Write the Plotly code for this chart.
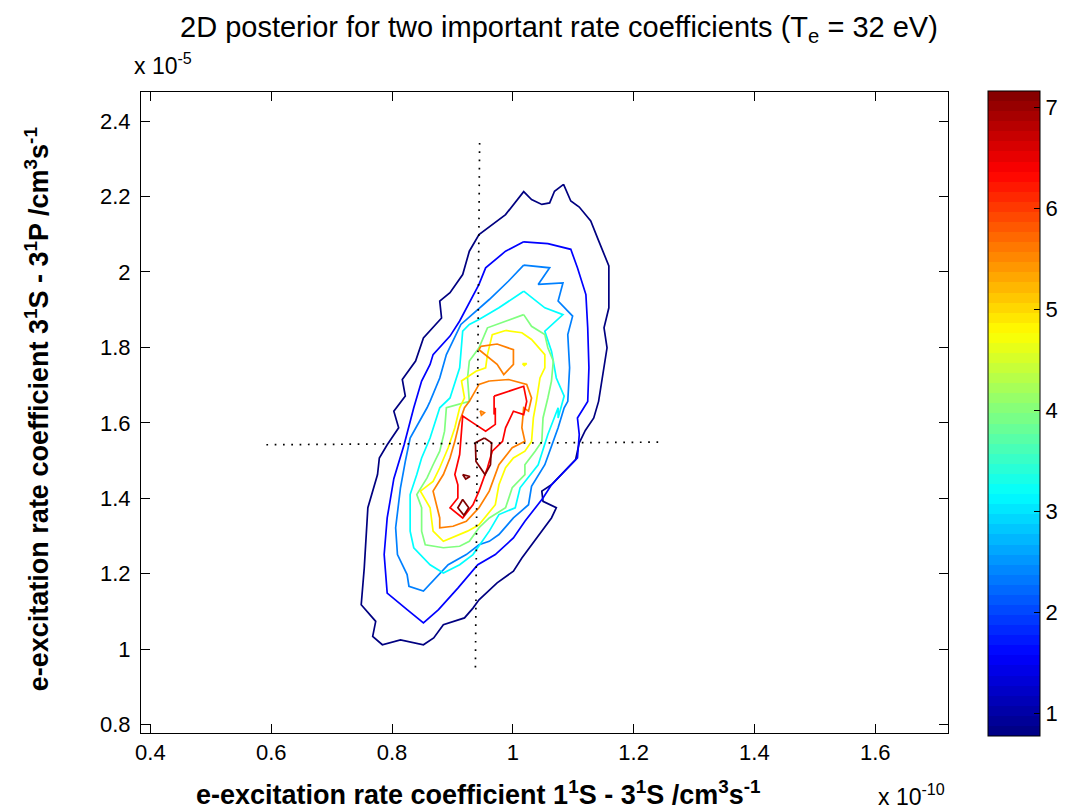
import plotly.graph_objects as go

# ---------------- data ----------------
X_RANGE = [0.3844, 1.7205]          # x 1e-10
Y_RANGE = [0.778, 2.477]            # x 1e-5
X_TICKS = [0.4, 0.6, 0.8, 1.0, 1.2, 1.4, 1.6]
Y_TICKS = [0.8, 1.0, 1.2, 1.4, 1.6, 1.8, 2.0, 2.2, 2.4]
CB_RANGE = [0.78, 7.16]
CB_TICKS = [1, 2, 3, 4, 5, 6, 7]
LEVELS = [0.78, 1.58, 2.38, 3.17, 3.97, 4.77, 5.57, 6.36, 7.16]

# contour level 1 (outermost)
C1 = [(1.084, 2.232), (1.096, 2.188), (1.110, 2.172), (1.129, 2.135), (1.140, 2.091),
      (1.159, 2.016), (1.159, 1.905), (1.151, 1.852), (1.156, 1.799), (1.151, 1.746),
      (1.142, 1.657), (1.134, 1.613), (1.120, 1.580), (1.110, 1.547), (1.104, 1.503),
      (1.064, 1.436), (1.048, 1.419), (1.050, 1.392), (1.072, 1.375), (1.064, 1.348),
      (1.015, 1.242), (1.001, 1.207), (0.974, 1.176), (0.944, 1.131), (0.934, 1.109),
      (0.920, 1.083), (0.885, 1.065), (0.869, 1.030), (0.852, 1.012), (0.814, 1.025),
      (0.784, 1.012), (0.768, 1.034), (0.773, 1.074), (0.749, 1.118), (0.754, 1.215),
      (0.760, 1.375), (0.776, 1.463), (0.779, 1.507), (0.792, 1.542), (0.811, 1.587),
      (0.803, 1.631), (0.822, 1.671), (0.817, 1.715), (0.839, 1.764), (0.852, 1.825),
      (0.882, 1.878), (0.879, 1.923), (0.896, 1.945), (0.917, 1.993), (0.928, 2.055),
      (0.944, 2.099), (0.988, 2.152), (1.018, 2.213), (1.031, 2.192), (1.048, 2.179),
      (1.061, 2.183), (1.069, 2.214)]
# level 2
C2 = [(1.018, 2.080), (1.058, 2.075), (1.096, 2.060), (1.107, 2.011), (1.121, 1.940),
      (1.124, 1.852), (1.126, 1.746), (1.124, 1.657), (1.107, 1.613), (1.110, 1.569),
      (1.107, 1.507), (1.085, 1.472), (1.064, 1.436), (1.050, 1.401), (1.020, 1.339),
      (1.001, 1.295), (0.971, 1.251), (0.942, 1.224), (0.909, 1.162), (0.877, 1.105),
      (0.852, 1.070), (0.825, 1.105), (0.792, 1.149), (0.787, 1.251), (0.792, 1.348),
      (0.803, 1.452), (0.820, 1.542), (0.836, 1.640), (0.849, 1.711), (0.863, 1.755),
      (0.868, 1.781), (0.896, 1.830), (0.912, 1.870), (0.944, 1.967), (0.955, 2.011),
      (0.988, 2.055)]
# level 3
C3 = [(1.018, 2.018), (1.061, 2.011), (1.042, 1.967), (1.083, 1.971), (1.075, 1.923),
      (1.099, 1.883), (1.091, 1.834), (1.094, 1.746), (1.091, 1.657), (1.085, 1.640),
      (1.075, 1.587), (1.067, 1.551), (1.053, 1.489), (1.031, 1.432), (1.026, 1.383),
      (1.001, 1.348), (0.977, 1.304), (0.961, 1.286), (0.944, 1.277), (0.923, 1.251),
      (0.893, 1.224), (0.852, 1.154), (0.828, 1.167), (0.825, 1.198), (0.809, 1.251),
      (0.806, 1.322), (0.814, 1.428), (0.822, 1.498), (0.830, 1.560), (0.858, 1.640),
      (0.863, 1.657), (0.879, 1.719), (0.890, 1.781), (0.914, 1.861), (0.961, 1.927),
      (0.993, 1.976)]
# level 4
C4 = [(1.018, 1.949), (1.053, 1.905), (1.083, 1.887), (1.053, 1.843), (1.064, 1.790),
      (1.072, 1.719), (1.085, 1.671), (1.075, 1.613), (1.075, 1.640), (1.058, 1.569),
      (1.042, 1.489), (1.012, 1.428), (1.004, 1.375), (0.977, 1.357), (0.961, 1.313),
      (0.934, 1.251), (0.912, 1.224), (0.885, 1.202), (0.863, 1.224), (0.836, 1.269),
      (0.830, 1.313), (0.830, 1.410), (0.841, 1.463), (0.849, 1.507), (0.863, 1.560),
      (0.879, 1.640), (0.896, 1.666), (0.912, 1.746), (0.917, 1.843), (0.928, 1.861),
      (0.944, 1.874), (0.977, 1.905)]
# level 5
C5 = [(1.018, 1.887), (1.031, 1.856), (1.053, 1.834), (1.058, 1.799), (1.067, 1.764),
      (1.064, 1.711), (1.058, 1.666), (1.050, 1.613), (1.048, 1.551), (1.037, 1.525),
      (1.020, 1.489), (1.020, 1.463), (0.999, 1.428), (0.988, 1.375), (0.961, 1.348),
      (0.944, 1.322), (0.928, 1.286), (0.912, 1.273), (0.885, 1.269), (0.855, 1.277),
      (0.849, 1.313), (0.849, 1.375), (0.841, 1.410), (0.858, 1.454), (0.868, 1.489),
      (0.879, 1.525), (0.887, 1.578), (0.890, 1.640), (0.928, 1.657), (0.925, 1.719),
      (0.928, 1.764), (0.944, 1.799), (0.958, 1.852), (1.004, 1.878)]
# level 6 (main loop + small island)
C6 = [(0.988, 1.845), (1.015, 1.839), (1.031, 1.821), (1.053, 1.781), (1.053, 1.746),
      (1.045, 1.719), (1.039, 1.657), (1.034, 1.613), (1.031, 1.551), (1.020, 1.525),
      (1.001, 1.507), (0.988, 1.481), (0.977, 1.436), (0.971, 1.383), (0.944, 1.330),
      (0.925, 1.313), (0.885, 1.286), (0.868, 1.313), (0.863, 1.375), (0.847, 1.419),
      (0.868, 1.445), (0.879, 1.481), (0.893, 1.534), (0.904, 1.587), (0.912, 1.640),
      (0.920, 1.666), (0.915, 1.711), (0.939, 1.737), (0.955, 1.746), (0.958, 1.781),
      (0.966, 1.834)]
C6_ISLAND = [(1.016, 1.757), (1.023, 1.757), (1.019, 1.752)]
# level 7 (upper island, main loop, tiny island)
C7_UPPER = [(0.947, 1.803), (0.974, 1.809), (1.001, 1.794), (1.001, 1.755), (0.985, 1.728),
            (0.974, 1.755), (0.944, 1.794)]
C7 = [(0.961, 1.711), (0.993, 1.715), (1.023, 1.702), (1.031, 1.666), (1.026, 1.631),
      (1.018, 1.640), (1.015, 1.587), (1.020, 1.551), (0.999, 1.534), (0.977, 1.489),
      (0.961, 1.419), (0.944, 1.375), (0.923, 1.339), (0.901, 1.326), (0.879, 1.322),
      (0.879, 1.348), (0.868, 1.419), (0.885, 1.463), (0.896, 1.507), (0.904, 1.551),
      (0.912, 1.604), (0.920, 1.640), (0.928, 1.657), (0.944, 1.702)]
C7_ISLAND = [(0.946, 1.632), (0.953, 1.627), (0.948, 1.620)]
# level 8
C8 = [(0.969, 1.671), (1.018, 1.697), (1.023, 1.657), (1.018, 1.622), (1.001, 1.631),
      (0.988, 1.587), (0.983, 1.551), (0.966, 1.525), (0.958, 1.481), (0.944, 1.419),
      (0.934, 1.383), (0.917, 1.348), (0.896, 1.375), (0.909, 1.401), (0.909, 1.436),
      (0.904, 1.463), (0.912, 1.516), (0.915, 1.569), (0.917, 1.618), (0.934, 1.600),
      (0.955, 1.578), (0.971, 1.596), (0.971, 1.640), (0.969, 1.622)]
# level 9 (three small islands)
C9_A = [(0.953, 1.560), (0.965, 1.547), (0.963, 1.489), (0.954, 1.463), (0.939, 1.498),
        (0.938, 1.547)]
C9_B = [(0.917, 1.463), (0.929, 1.458), (0.922, 1.451)]
C9_C = [(0.917, 1.397), (0.927, 1.375), (0.919, 1.355), (0.909, 1.375)]

# dotted cross (best-fit values)
VLINE_X = [0.945, 0.938]
VLINE_Y = [2.342, 0.937]
HLINE_X = [0.592, 1.243]
HLINE_Y = [1.542, 1.549]

CONTOUR_SETS = [
    (0, [C1]), (1, [C2]), (2, [C3]), (3, [C4]), (4, [C5]),
    (5, [C6, C6_ISLAND]), (6, [C7_UPPER, C7, C7_ISLAND]), (7, [C8]),
    (8, [C9_A, C9_B, C9_C]),
]


# ---------------- styling helpers ----------------
def jet(t):
    def c(v):
        return max(0.0, min(1.0, v))
    r = c(1.5 - abs(4 * t - 3))
    g = c(1.5 - abs(4 * t - 2))
    b = c(1.5 - abs(4 * t - 1))
    return "rgb(%d,%d,%d)" % (round(r * 255), round(g * 255), round(b * 255))


def level_color(v):
    return jet((v - CB_RANGE[0]) / (CB_RANGE[1] - CB_RANGE[0]))


# banded (64 step) jet colour scale like MATLAB
NB = 64
JET64 = []
for k in range(NB):
    col = jet((k + 0.5) / NB)
    JET64.append([k / NB, col])
    JET64.append([(k + 1) / NB, col])

SANS = "Liberation Sans, Arial, Helvetica, sans-serif"

fig = go.Figure()

for idx, segs in CONTOUR_SETS:
    xs, ys = [], []
    for seg in segs:
        pts = list(seg) + [seg[0]]
        xs += [p[0] for p in pts] + [None]
        ys += [p[1] for p in pts] + [None]
    fig.add_trace(go.Scatter(x=xs, y=ys, mode="lines",
                             line=dict(color=level_color(LEVELS[idx]), width=1.7),
                             hoverinfo="skip", showlegend=False))

for lx, ly in [(VLINE_X, VLINE_Y), (HLINE_X, HLINE_Y)]:
    fig.add_trace(go.Scatter(x=lx, y=ly, mode="lines",
                             line=dict(color="black", width=1.7, dash="1.7px,6.6px"),
                             hoverinfo="skip", showlegend=False))

# colour bar
fig.add_trace(go.Scatter(
    x=[None], y=[None], mode="markers", showlegend=False, hoverinfo="skip",
    marker=dict(color=[CB_RANGE[0]], cmin=CB_RANGE[0], cmax=CB_RANGE[1],
                colorscale=JET64, showscale=True,
                colorbar=dict(x=1.05, xanchor="left", y=0.4985, yanchor="middle",
                              lenmode="pixels", len=645, thickness=52,
                              thicknessmode="pixels", xpad=0, ypad=0,
                              outlinewidth=1, outlinecolor="black",
                              tickvals=CB_TICKS, ticks="inside", ticklen=6,
                              tickcolor="black", tickwidth=1,
                              tickfont=dict(family=SANS, size=22, color="black")))))

axis_common = dict(showgrid=False, zeroline=False, showline=True, linecolor="black",
                   linewidth=1, mirror="ticks", ticks="inside", ticklen=9,
                   tickcolor="black", tickwidth=1,
                   tickfont=dict(family=SANS, size=22, color="black"))

fig.update_xaxes(range=X_RANGE, tickvals=X_TICKS, ticklabelstandoff=0, **axis_common)
fig.update_yaxes(range=Y_RANGE, tickvals=Y_TICKS, ticklabelstandoff=5, **axis_common)

annots = [
    dict(text="2D posterior for two important rate coefficients (T<sub>e</sub> = 32 eV)",
         x=0.518, y=1.1295, yanchor="top", font=dict(family=SANS, size=29, color="black")),
    dict(text="e-excitation rate coefficient 1<sup>1</sup>S - 3<sup>1</sup>S /cm<sup>3</sup>s<sup>-1</sup>",
         x=0.418, y=-0.124, yanchor="bottom",
         font=dict(family=SANS, size=27, color="black", weight="bold")),
    dict(text="e-excitation rate coefficient 3<sup>1</sup>S - 3<sup>1</sup>P /cm<sup>3</sup>s<sup>-1</sup>",
         x=-0.129, y=0.505, yanchor="middle", textangle=-90,
         font=dict(family=SANS, size=27, color="black", weight="bold")),
    dict(text="x 10<sup>-10</sup>", x=0.955, y=-0.124, yanchor="bottom",
         font=dict(family=SANS, size=23, color="black")),
    dict(text="x 10<sup>-5</sup>", x=0.027, y=1.017, yanchor="bottom",
         font=dict(family=SANS, size=23, color="black")),
]
for a in annots:
    fig.add_annotation(xref="paper", yref="paper", showarrow=False,
                       xanchor="center", **a)

fig.update_layout(width=1069, height=812, margin=dict(l=133, r=116, t=84, b=87),
                  paper_bgcolor="white", plot_bgcolor="white")

fig.write_html("out.html")
